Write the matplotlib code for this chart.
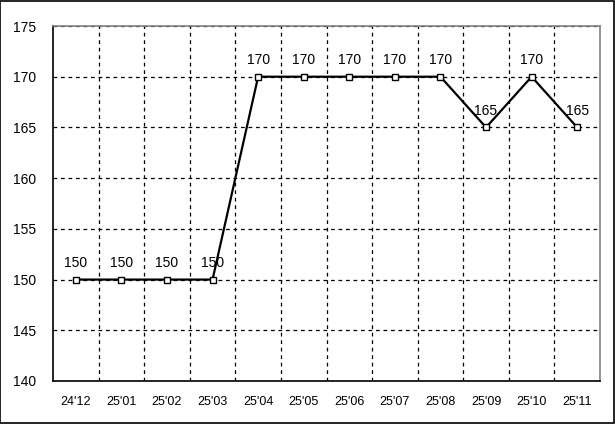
import matplotlib
matplotlib.use("Agg")
import matplotlib.pyplot as plt
from matplotlib.ticker import FixedLocator

categories = ["24'12", "25'01", "25'02", "25'03", "25'04", "25'05", "25'06",
              "25'07", "25'08", "25'09", "25'10", "25'11"]
values = [150, 150, 150, 150, 170, 170, 170, 170, 170, 165, 170, 165]
yticks = [140, 145, 150, 155, 160, 165, 170, 175]

plt.rcParams['font.family'] = ['Liberation Sans', 'DejaVu Sans']

fig = plt.figure(figsize=(6.15, 4.24), dpi=100)
fig.patch.set_facecolor('white')
# outer border
fig.add_artist(plt.Rectangle((0.0008, 0.0012), 0.9976, 0.9965, transform=fig.transFigure,
                             fill=False, edgecolor='black', linewidth=1.2))

ax = fig.add_axes([53/615, (424-381)/424, 547/615, 355/424])
x = list(range(len(categories)))
ax.plot(x, values, color='black', linewidth=1.6, marker='s', markersize=4.5,
        markerfacecolor='white', markeredgecolor='black', markeredgewidth=1.0, zorder=3)
for xi, v in zip(x, values):
    ax.annotate(str(v), (xi, v), xytext=(0, 7), textcoords='offset points',
                ha='center', va='bottom', fontsize=10, color='black')

ax.set_xlim(-0.5, len(categories) - 0.5)
ax.set_ylim(140, 175)
ax.set_xticks(x)
ax.set_xticklabels(categories, fontsize=9)
ax.set_yticks(yticks)
ax.set_yticklabels([str(t) for t in yticks], fontsize=10)
ax.xaxis.set_minor_locator(FixedLocator([i + 0.5 for i in range(len(categories) - 1)]))
ax.tick_params(axis='both', which='both', length=0)
ax.tick_params(axis='x', pad=11)
ax.tick_params(axis='y', pad=12)
ax.grid(True, which='minor', axis='x', linestyle=(0, (3, 3)), color='black', linewidth=0.9)
ax.grid(True, which='major', axis='y', linestyle=(0, (3, 3)), color='black', linewidth=0.9)
ax.grid(False, which='major', axis='x')
for s in ['left', 'bottom']:
    ax.spines[s].set_color('black')
    ax.spines[s].set_linewidth(1.2)
for s in ['top', 'right']:
    ax.spines[s].set_color('#808080')
    ax.spines[s].set_linewidth(1.2)

fig.savefig('out.png', dpi=100)
